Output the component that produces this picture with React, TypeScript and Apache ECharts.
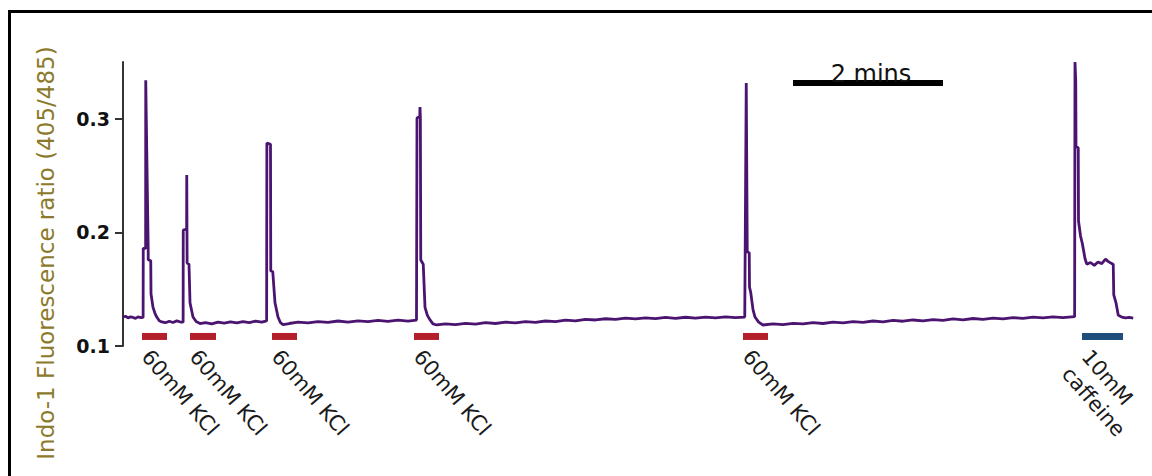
import React, { useEffect, useRef } from "react";
import * as echarts from "echarts";

// time in seconds, ratio 405/485
const trace: [number, number][] = [
  [0, 0.1255], [2, 0.1262], [4, 0.1248], [6, 0.1256], [8, 0.1251], [10, 0.1243], [12, 0.1256], [14.4, 0.125], [16.1, 0.1252],
  [16.2, 0.186], [18.1, 0.186], [18.2, 0.334], [18.5, 0.31], [20.1, 0.19], [20.2, 0.176], [22.2, 0.175], [22.4, 0.146], [24, 0.134], [25.5, 0.129], [27, 0.1255], [29, 0.1222], [31, 0.1212],
  [34, 0.1205], [37, 0.1218], [40, 0.1207], [43, 0.1221], [46, 0.1211], [48.1, 0.121],
  [48.2, 0.202], [50.9, 0.203], [51, 0.2505], [51.3, 0.173], [52.8, 0.172], [53.6, 0.138], [56, 0.1255], [58.5, 0.1215], [61.6, 0.1198],
  [66, 0.1206], [71, 0.1195], [76, 0.121], [81, 0.1201], [86, 0.1213], [91, 0.1204], [96, 0.1215], [101, 0.1206], [106, 0.1218], [111, 0.121], [114.9, 0.1222],
  [115.1, 0.2787], [118, 0.2775], [118.2, 0.166], [119.8, 0.1655], [121.6, 0.138], [124, 0.1255], [126, 0.1205], [128, 0.1188],
  [133, 0.1198], [140, 0.121], [148, 0.1203], [156, 0.1215], [164, 0.1208], [172, 0.122], [180, 0.121], [188, 0.1222], [196, 0.1214], [204, 0.1225], [212, 0.1216], [220, 0.1227], [228, 0.1219], [234.8, 0.1228],
  [235.2, 0.3007], [237.4, 0.302], [237.6, 0.3104], [237.9, 0.3], [238.2, 0.1757], [240.2, 0.172], [241.6, 0.134], [243.5, 0.127], [245.6, 0.123], [248, 0.1195], [251, 0.1185],
  [258, 0.1195], [266, 0.1188], [274, 0.12], [282, 0.1193], [290, 0.1205], [298, 0.1198], [306, 0.121], [314, 0.1203], [322, 0.1215], [330, 0.1208], [338, 0.122], [346, 0.1214], [354, 0.1228], [362, 0.1222], [370, 0.1235], [378, 0.1229], [386, 0.124], [394, 0.1234], [402, 0.1245], [410, 0.1238], [418, 0.1248], [426, 0.1241], [434, 0.1252], [442, 0.1244], [450, 0.1253], [458, 0.1246], [466, 0.1255], [474, 0.1247], [482, 0.1256], [490, 0.1249], [497.4, 0.1255],
  [498.6, 0.3315], [499.4, 0.183], [501, 0.182], [501.2, 0.152], [502.2, 0.147], [504, 0.132], [505.6, 0.1255], [508.5, 0.121], [512, 0.1185],
  [520, 0.1195], [528, 0.1188], [536, 0.12], [544, 0.1194], [552, 0.1205], [560, 0.1198], [568, 0.121], [576, 0.1203], [584, 0.1215], [592, 0.1208], [600, 0.122], [608, 0.1213], [616, 0.1225], [624, 0.1218], [632, 0.1229], [640, 0.1222], [648, 0.1233], [656, 0.1226], [664, 0.1238], [672, 0.123], [680, 0.1242], [688, 0.1235], [696, 0.1246], [704, 0.1239], [712, 0.125], [720, 0.1243], [728, 0.1254], [736, 0.1247], [744, 0.1257], [752, 0.125], [761.3, 0.1258],
  [761.6, 0.35], [762.2, 0.3326], [762.4, 0.2755], [764.2, 0.2745], [764.4, 0.21], [766, 0.197], [767.5, 0.19], [769.6, 0.177], [771, 0.172], [774, 0.1735], [777, 0.171], [780, 0.174], [783, 0.1725], [786, 0.1765], [788, 0.1745], [791, 0.1725], [792.2, 0.172],
  [792.6, 0.145], [794.4, 0.138], [796.2, 0.127], [799, 0.1255], [802, 0.1248], [805, 0.1252], [808.2, 0.1246],
];

const stimStart = [15.2, 53.6, 119.2, 232.8, 496, 767.2];
const stimEnd = [35.2, 74.4, 139.2, 252.8, 516, 800];
const stimKind = ["KCl", "KCl", "KCl", "KCl", "KCl", "caffeine"];
const stimLabels = ["60mM KCl", "60mM KCl", "60mM KCl", "60mM KCl", "60mM KCl", "10mM\ncaffeine"];
const stimLevel = 0.1084;

const scaleBarStart = 536;
const scaleBarLength = 120; // 2 mins in seconds
const scaleBarLevel = 0.3315;
const scaleBarLabel = "2 mins";

const yTicks = [0.1, 0.2, 0.3];
const yAxisTitle = "Indo-1 Fluorescence ratio (405/485)";

export default function App() {
  const ref = useRef<HTMLDivElement>(null);
  useEffect(() => {
    if (!ref.current) return;
    const chart = echarts.init(ref.current, null, { renderer: "svg" });
    const option: any = {
      animation: false,
      backgroundColor: "#ffffff",
      grid: { left: 123, right: 16.5, top: 62, bottom: 130 },
      xAxis: { type: "value", min: 0, max: 810, show: false },
      yAxis: {
        type: "value",
        min: 0.1,
        max: 0.35,
        interval: 0.1,
        axisLine: { show: true, lineStyle: { color: "#333333", width: 2 } },
        axisTick: { show: true, length: 8, customValues: yTicks, lineStyle: { color: "#333333", width: 2 } },
        axisLabel: {
          customValues: yTicks,
          margin: 13,
          color: "#111111",
          fontFamily: "DejaVu Sans",
          fontWeight: "bold",
          fontSize: 19,
          formatter: (v: number) => v.toFixed(1),
        },
        splitLine: { show: false },
      },
      graphic: [
        {
          type: "rect",
          shape: { x: 9.5, y: 11.5, width: 1300, height: 700 },
          style: { fill: "none", stroke: "#000000", lineWidth: 3 },
        },
        {
          type: "text",
          x: 46,
          y: 253,
          rotation: Math.PI / 2,
          style: {
            text: yAxisTitle,
            fill: "#8c7a2c",
            font: '23px "DejaVu Sans"',
            align: "center",
            verticalAlign: "middle",
          },
        },
      ],
      series: [
        {
          type: "line",
          data: trace,
          showSymbol: false,
          symbol: "none",
          lineStyle: { color: "#4b1470", width: 2.8 },
          z: 3,
        },
        {
          type: "custom",
          data: stimStart.map((s, i) => [s, stimEnd[i], stimLevel, i]),
          renderItem: (params: any, api: any) => {
            const i = api.value(3);
            const p0 = api.coord([api.value(0), api.value(2)]);
            const p1 = api.coord([api.value(1), api.value(2)]);
            const color = stimKind[i] === "caffeine" ? "#1f4e7a" : "#b3202a";
            return {
              type: "group",
              children: [
                { type: "rect", shape: { x: p0[0], y: p0[1] - 3.5, width: p1[0] - p0[0], height: 7 }, style: { fill: color } },
                {
                  type: "text",
                  x: p0[0] + 13.5,
                  y: p0[1] + 8,
                  rotation: -0.855,
                  style: {
                    text: stimLabels[i],
                    fill: "#1a1a1a",
                    font: '21px "DejaVu Sans"',
                    align: "left",
                    verticalAlign: "top",
                    lineHeight: 26,
                  },
                },
              ],
            };
          },
          z: 4,
        },
        {
          type: "custom",
          data: [[scaleBarStart, scaleBarStart + scaleBarLength, scaleBarLevel]],
          renderItem: (params: any, api: any) => {
            const p0 = api.coord([api.value(0), api.value(2)]);
            const p1 = api.coord([api.value(1), api.value(2)]);
            return {
              type: "group",
              children: [
                { type: "rect", shape: { x: p0[0], y: p0[1] - 3, width: p1[0] - p0[0], height: 6 }, style: { fill: "#000000" } },
                {
                  type: "text",
                  x: (p0[0] + p1[0]) / 2 + 3,
                  y: p0[1] + 3,
                  style: {
                    text: scaleBarLabel,
                    fill: "#111111",
                    font: '24px "DejaVu Sans"',
                    align: "center",
                    verticalAlign: "bottom",
                  },
                },
              ],
            };
          },
          z: 5,
        },
      ],
    };
    chart.setOption(option);
    return () => chart.dispose();
  }, []);
  return (
    <div
      ref={ref}
      style={{ position: "fixed", left: 0, top: 0, width: 1152, height: 476, background: "#fff" }}
    />
  );
}
